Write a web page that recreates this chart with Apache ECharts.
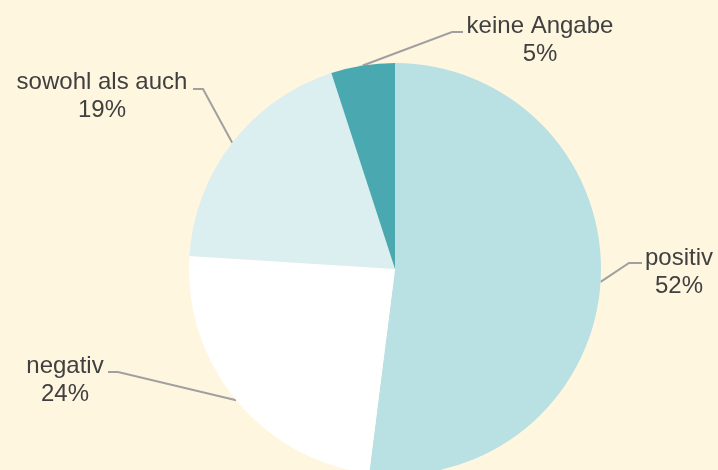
<!DOCTYPE html>
<html>
<head>
<meta charset="utf-8">
<script src="https://cdn.jsdelivr.net/npm/echarts@6/dist/echarts.min.js"></script>
<style>
  html, body { margin: 0; padding: 0; background: #FFF6E0; }
  #chart { width: 718px; height: 470px; }
</style>
</head>
<body>
<div id="chart"></div>
<script>
// data (percent)
const categories = ['positiv', 'negativ', 'sowohl als auch', 'keine Angabe'];
const shares = [52, 24, 19, 5];
const sliceColors = ['#B9E0E3', '#FFFFFF', '#DBEEF0', '#4AA9B0'];

// where each label sits (text centre) and how its leader line bends
const labelSpots = [
    { x: 679, y: 272, bend: [629, 263], end: [642, 263] },
    { x: 65, y: 380, bend: [118, 372], end: [108, 372] },
    { x: 102, y: 96, bend: [203, 89], end: [193, 89] },
    { x: 540, y: 40, bend: [452, 32], end: [463, 32] }
];

const myChart = echarts.init(document.getElementById('chart'));

const option = {
    backgroundColor: '#FFF6E0',
    animation: false,
    series: [
        {
            type: 'pie',
            center: [395, 269],
            radius: 206,
            startAngle: 90,
            clockwise: true,
            avoidLabelOverlap: false,
            emphasis: { disabled: true },
            data: categories.map((name, i) => ({
                name: name,
                value: shares[i],
                itemStyle: { color: sliceColors[i] }
            })),
            itemStyle: { borderWidth: 0 },
            label: {
                show: true,
                position: 'outside',
                formatter: '{b}\n{c}%',
                fontFamily: 'Liberation Sans, Arial, sans-serif',
                fontSize: 24,
                lineHeight: 28,
                color: '#404040'
            },
            labelLine: {
                show: true,
                length: 20,
                length2: 10,
                lineStyle: { color: '#A0A0A0', width: 2 }
            },
            labelLayout: function (params) {
                const spot = labelSpots[params.dataIndex];
                const pts = params.labelLinePoints;
                const start = pts && pts.length ? pts[0] : spot.bend;
                return {
                    x: spot.x,
                    y: spot.y,
                    align: 'center',
                    verticalAlign: 'middle',
                    labelLinePoints: [start, spot.bend, spot.end]
                };
            }
        }
    ]
};

myChart.setOption(option);
</script>
</body>
</html>
